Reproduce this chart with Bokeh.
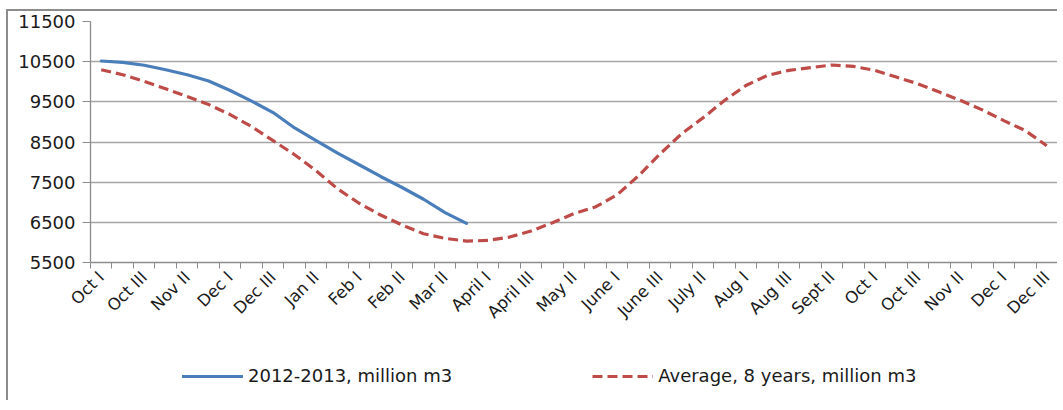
import math
from bokeh.plotting import figure
from bokeh.layouts import column
from bokeh.models import Legend, LegendItem, FixedTicker, Range1d
from bokeh.embed import file_html
from bokeh.resources import INLINE

# ---- data ----
months = ["Oct", "Nov", "Dec", "Jan", "Feb", "Mar", "April", "May", "June",
          "July", "Aug", "Sept", "Oct", "Nov", "Dec"]
dekads = [f"{m} {d}" for m in months for d in ("I", "II", "III")]

tick_labels = ["Oct I", "Oct III", "Nov II", "Dec I", "Dec III", "Jan II", "Feb I",
               "Feb II", "Mar II", "April I", "April III", "May II", "June I",
               "June III", "July II", "Aug I", "Aug III", "Sept II", "Oct I",
               "Oct III", "Nov II", "Dec I", "Dec III"]

series_names = ["2012-2013, million m3", "Average, 8 years, million m3"]

season_2012_2013 = [10517, 10483, 10410, 10300, 10175, 10017, 9783, 9517, 9233,
                    8850, 8533, 8225, 7933, 7642, 7367, 7075, 6742, 6475]

average_8_years = [10300, 10175, 10008, 9825, 9633, 9433, 9183, 8883, 8533,
                   8183, 7783, 7333, 6975, 6683, 6433, 6217, 6100, 6033,
                   6050, 6133, 6283, 6492, 6717, 6883, 7183, 7658, 8200,
                   8700, 9100, 9533, 9908, 10158, 10283, 10350, 10417, 10383,
                   10283, 10117, 9950, 9742, 9533, 9300, 9033, 8783, 8408]

y_ticks = [5500, 6500, 7500, 8500, 9500, 10500, 11500]

BLUE = "#4a7ebb"
RED = "#be4b48"
GRAY = "#8c8c8c"
TEXT = "#1a1a1a"

# ---- main chart ----
n = len(dekads)
x_all = list(range(n))
p = figure(width=1049, height=329, output_backend="svg", toolbar_location=None,
           x_range=Range1d(-0.5, n - 0.5), y_range=Range1d(5500, 11500),
           min_border_left=82, min_border_right=0, min_border_top=10,
           min_border_bottom=78)
p.outline_line_color = None
p.background_fill_color = "white"
p.border_fill_color = "white"

p.line(x_all[:len(season_2012_2013)], season_2012_2013,
       line_color=BLUE, line_width=3.2, line_join="round", line_cap="round")
p.line(x_all[:len(average_8_years)], average_8_years,
       line_color=RED, line_width=3.2, line_dash="10 5")

# grid
p.xgrid.grid_line_color = None
p.ygrid.grid_line_color = "#a6a6a6"
p.ygrid.grid_line_width = 1.3
p.ygrid.ticker = FixedTicker(ticks=y_ticks)

# y axis
p.yaxis.ticker = FixedTicker(ticks=y_ticks, minor_ticks=[])
p.yaxis.axis_line_color = GRAY
p.yaxis.axis_line_width = 1.3
p.yaxis.major_tick_line_color = GRAY
p.yaxis.major_tick_out = 8
p.yaxis.major_tick_in = 0
p.yaxis.minor_tick_line_color = None
p.yaxis.major_label_text_font = "DejaVu Sans"
p.yaxis.major_label_text_font_size = "18px"
p.yaxis.major_label_text_color = TEXT
p.yaxis.major_label_standoff = 7

# x axis
label_pos = list(range(0, n, 2))
p.xaxis.ticker = FixedTicker(ticks=label_pos,
                             minor_ticks=[i - 0.5 for i in range(n + 1)])
p.xaxis.major_label_overrides = {pos: lab for pos, lab in zip(label_pos, tick_labels)}
p.xaxis.major_label_orientation = math.pi / 4
p.xaxis.major_label_text_font = "DejaVu Sans"
p.xaxis.major_label_text_font_size = "16.5px"
p.xaxis.major_label_text_color = TEXT
p.xaxis.major_label_standoff = 6
p.xaxis.axis_line_color = GRAY
p.xaxis.axis_line_width = 1.3
p.xaxis.major_tick_line_color = None
p.xaxis.minor_tick_line_color = GRAY
p.xaxis.minor_tick_out = 6
p.xaxis.minor_tick_in = 0

# ---- legend strip below the chart ----
q = figure(width=1049, height=60, output_backend="svg", toolbar_location=None,
           x_axis_type=None, y_axis_type=None,
           x_range=Range1d(-1, 0), y_range=Range1d(0, 1),
           min_border_left=0, min_border_right=0, min_border_top=0,
           min_border_bottom=0)
q.outline_line_color = None
q.xgrid.grid_line_color = None
q.ygrid.grid_line_color = None
# same series (outside the strip's view) so the legend shows their styles
l1 = q.line(x_all[:len(season_2012_2013)], season_2012_2013,
            line_color=BLUE, line_width=3.2, line_cap="round")
l2 = q.line(x_all[:len(average_8_years)], average_8_years,
            line_color=RED, line_width=3.2, line_dash="10 5")
legend = Legend(items=[LegendItem(label=series_names[0], renderers=[l1]),
                       LegendItem(label=series_names[1], renderers=[l2])],
                orientation="horizontal", location=(92, 14),
                glyph_width=61, label_standoff=5, spacing=140, padding=4, margin=0,
                label_text_font="DejaVu Sans", label_text_font_size="18px",
                label_text_color=TEXT, border_line_color=None,
                background_fill_alpha=0)
q.add_layout(legend, "center")

layout = column(p, q, spacing=0)
layout.styles = {"margin-left": "6px", "margin-top": "9px",
                 "border-left": "2px solid #8c8c8c",
                 "border-top": "2px solid #8c8c8c"}

open("out.html", "w").write(file_html(layout, INLINE))
